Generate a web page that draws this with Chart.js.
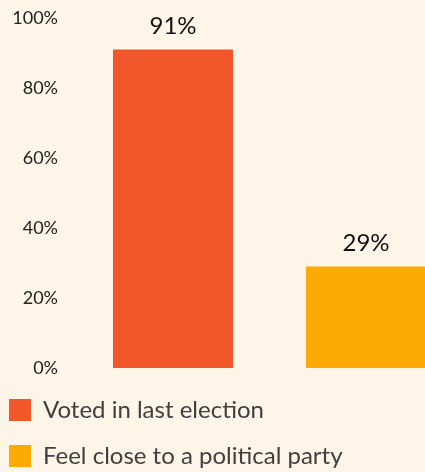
<!DOCTYPE html>
<html>
<head>
<meta charset="utf-8">
<script src="https://cdn.jsdelivr.net/npm/chart.js@4"></script>
<style>
  html, body { margin: 0; padding: 0; background: #FDF5E7; }
  #wrap { position: relative; width: 425px; height: 472px; overflow: hidden; background: #FDF5E7; }
  #chart { position: absolute; left: -13px; top: 0; }
</style>
</head>
<body>
<div id="wrap"><canvas id="chart" width="490" height="478"></canvas></div>
<script>
var seriesNames = ['Voted in last election', 'Feel close to a political party'];
var seriesValues = [91, 29];
var seriesColors = ['#F2572B', '#FEAA04'];
var yTicks = [0, 20, 40, 60, 80, 100];

var fontFamily = 'Lato, "Open Sans", sans-serif';

// values written above each bar
var barValues = {
  id: 'barValues',
  afterDatasetsDraw: function(chart) {
    var ctx = chart.ctx;
    ctx.save();
    ctx.font = '24px ' + fontFamily;
    ctx.fillStyle = '#111';
    ctx.textAlign = 'center';
    ctx.textBaseline = 'middle';
    chart.data.datasets.forEach(function(ds, i) {
      var bar = chart.getDatasetMeta(i).data[0];
      ctx.fillText(ds.data[0] + '%', bar.x, bar.y - 23);
    });
    ctx.restore();
  }
};

var ctx = document.getElementById('chart').getContext('2d');
var myChart = new Chart(ctx, {
  type: 'bar',
  data: {
    labels: [''],
    datasets: seriesNames.map(function(name, i) {
      return {
        label: name,
        data: [seriesValues[i]],
        backgroundColor: seriesColors[i],
        borderWidth: 0
      };
    })
  },
  options: {
    responsive: false,
    animation: false,
    layout: { padding: { top: 18, right: 14.5, bottom: 0, left: 0 } },
    categoryPercentage: 1,
    barPercentage: 0.622,
    scales: {
      x: {
        grid: { display: false, drawTicks: false },
        border: { display: false },
        ticks: { display: false },
        afterFit: function(s) { s.height = 8; }
      },
      y: {
        min: 0,
        max: 100,
        afterBuildTicks: function(s) { s.ticks = yTicks.map(function(v) { return { value: v }; }); },
        grid: { display: false, drawTicks: false },
        border: { display: false },
        ticks: {
          padding: 18.5,
          color: '#222',
          font: { family: fontFamily, size: 18 },
          callback: function(v) { return v + '%'; }
        },
        afterFit: function(s) {
          s.width = 89.5;
          s.paddingTop = 11;
          s.paddingBottom = 11;
        }
      }
    },
    plugins: {
      legend: {
        position: 'bottom',
        align: 'start',
        labels: {
          boxWidth: 22,
          boxHeight: 22,
          padding: 22,
          color: '#404040',
          font: { family: fontFamily, size: 24 }
        }
      },
      tooltip: { enabled: false }
    }
  },
  plugins: [barValues]
});
</script>
</body>
</html>
